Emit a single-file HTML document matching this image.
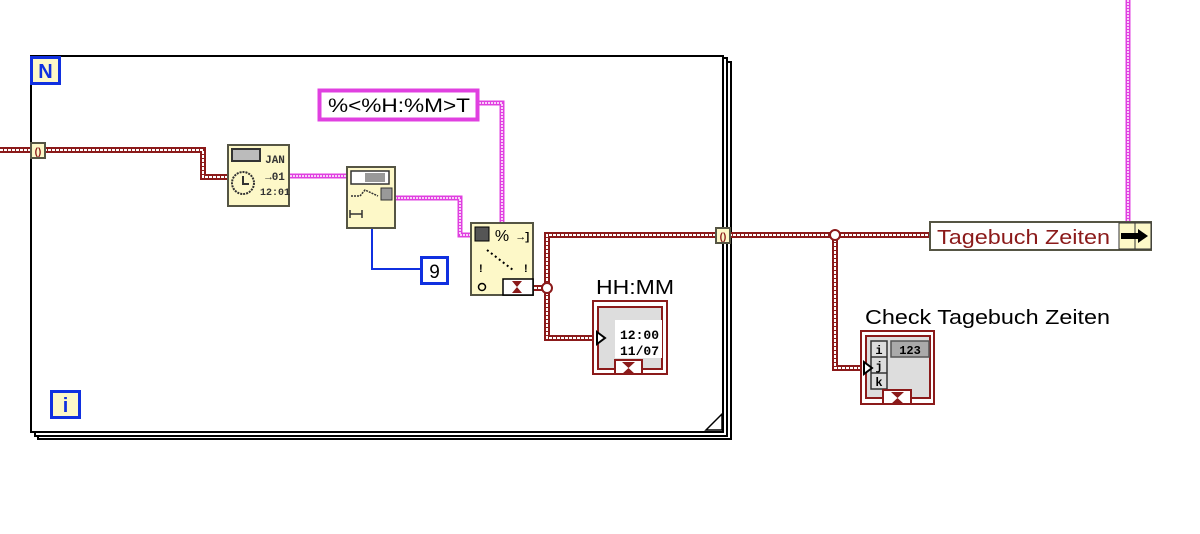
<!DOCTYPE html>
<html><head><meta charset="utf-8"><style>
html,body{margin:0;padding:0;background:#fff;width:1200px;height:534px;overflow:hidden}
svg{display:block}
text{font-family:"Liberation Sans",sans-serif}
.m{font-family:"Liberation Mono",monospace;font-weight:bold}
</style></head><body>
<svg width="1200" height="534" viewBox="0 0 1200 534" xmlns="http://www.w3.org/2000/svg">
<g fill="none" stroke="#000" stroke-width="2">
<path d="M31 56 H723 V432 H31 Z"/>
<path d="M723 58 H727 V436 H35 V432"/>
<path d="M727 62 H731 V439 H38 V436"/>
</g>
<path d="M706 430 L722 414 V430 Z" fill="#fff" stroke="#000" stroke-width="1.5"/>
<g fill="none" stroke-linejoin="miter">
<g stroke="#8b1a1a" stroke-width="6">
<path d="M0 150 H203 V177 H228"/>
<path d="M534 288 H547 V235 H929"/>
<path d="M547 288 V338 H597"/>
<path d="M835 235 V368 H862"/>
</g>
<g stroke="#fff" stroke-width="2" stroke-dasharray="3 1">
<path d="M0 150 H203 V177 H228"/>
<path d="M534 288 H547 V235 H929"/>
<path d="M547 288 V338 H597"/>
<path d="M835 235 V368 H862"/>
</g>
<g stroke="#e040e0" stroke-width="5">
<path d="M290 176 H347"/>
<path d="M395 198 H460 V235 H471"/>
<path d="M479 103 H502 V222"/>
<path d="M1128 0 V221"/>
</g>
<g stroke="#fff" stroke-width="1.5" stroke-dasharray="2 1">
<path d="M290 176 H347"/>
<path d="M395 198 H460 V235 H471"/>
<path d="M479 103 H502 V222"/>
<path d="M1128 0 V221"/>
</g>
<path d="M372 229 V269 H420" stroke="#1030e0" stroke-width="2"/>
</g>
<circle cx="547" cy="288" r="5" fill="#fff" stroke="#8b1a1a" stroke-width="2"/>
<circle cx="835" cy="235" r="5" fill="#fff" stroke="#8b1a1a" stroke-width="2"/>
<rect x="31" y="143" width="14" height="15" fill="#fdf8c8" stroke="#555544" stroke-width="2"/>
<text x="38" y="155" font-size="10" fill="#8b1a1a" text-anchor="middle" font-weight="bold">()</text>
<rect x="716" y="228" width="14" height="15" fill="#fdf8c8" stroke="#555544" stroke-width="2"/>
<text x="723" y="240" font-size="10" fill="#8b1a1a" text-anchor="middle" font-weight="bold">()</text>
<rect x="31.5" y="57.5" width="28" height="26" fill="#fdf8c8" stroke="#1030e0" stroke-width="3"/>
<text x="45.5" y="78" font-size="20" fill="#1030e0" text-anchor="middle" font-weight="bold">N</text>
<rect x="51.5" y="391.5" width="28" height="26" fill="#fdf8c8" stroke="#1030e0" stroke-width="3"/>
<text x="65.5" y="412" font-size="20" fill="#1030e0" text-anchor="middle" font-weight="bold">i</text>
<rect x="228" y="145" width="61" height="61" fill="#fdf8c8" stroke="#555544" stroke-width="2"/>
<rect x="232" y="149" width="28" height="12" fill="#bbb" stroke="#333" stroke-width="2"/>
<circle cx="243" cy="183" r="11" fill="none" stroke="#333" stroke-width="2" stroke-dasharray="2 1"/>
<path d="M243 176 V184 H249" stroke="#333" stroke-width="2" fill="none"/>
<text x="275" y="163" class="m" font-size="11" fill="#333" text-anchor="middle">JAN</text>
<text x="275" y="180" class="m" font-size="11" fill="#333" text-anchor="middle">→01</text>
<text x="275" y="195" class="m" font-size="10" fill="#333" text-anchor="middle">12:01</text>
<rect x="347" y="167" width="48" height="61" fill="#fdf8c8" stroke="#555544" stroke-width="2"/>
<rect x="351" y="171" width="38" height="13" fill="#fff" stroke="#333" stroke-width="1.5"/>
<rect x="365" y="173" width="20" height="9" fill="#999"/>
<rect x="381" y="188" width="11" height="12" fill="#999" stroke="#333"/>
<path d="M351 196 H360 L365 190 L378 196" stroke="#333" fill="none" stroke-width="1.5" stroke-dasharray="2 1"/>
<path d="M350 214 H362 M350 210 V218 M362 210 V218" stroke="#333" stroke-width="1.5"/>
<rect x="421.5" y="257.5" width="26" height="26" fill="#fff" stroke="#1030e0" stroke-width="3"/>
<text x="434.5" y="278" font-size="19" fill="#000" text-anchor="middle">9</text>
<rect x="319.5" y="90.5" width="158" height="29" fill="#fff" stroke="#e040e0" stroke-width="4"/>
<text x="328" y="112" font-size="19" fill="#000" textLength="142" lengthAdjust="spacingAndGlyphs">%&lt;%H:%M&gt;T</text>
<rect x="471" y="223" width="62" height="72" fill="#fdf8c8" stroke="#555544" stroke-width="2"/>
<rect x="475" y="227" width="14" height="14" fill="#555" stroke="#000"/>
<text x="502" y="241" font-size="16" fill="#000" text-anchor="middle">%</text>
<text x="524" y="240" class="m" font-size="11" fill="#000" text-anchor="middle">→]</text>
<path d="M487 250 L513 270" stroke="#000" stroke-dasharray="2 3" stroke-width="2"/>
<text x="479" y="272" font-size="11" fill="#000" font-weight="bold">!</text>
<text x="524" y="272" font-size="11" fill="#000" font-weight="bold">!</text>
<circle cx="482" cy="287" r="3.5" fill="none" stroke="#000" stroke-width="1.5"/>
<rect x="503" y="279" width="30" height="16" fill="#fff" stroke="#000" stroke-width="1.5"/>
<path d="M512 281 H522 L512 293 H522 Z" fill="#8b1a1a"/>
<text x="596" y="294" font-size="20" fill="#000" textLength="78" lengthAdjust="spacingAndGlyphs">HH:MM</text>
<rect x="593" y="301" width="74" height="73" fill="#fff" stroke="#8b1a1a" stroke-width="2"/>
<rect x="598" y="307" width="64" height="62" fill="#ddd" stroke="#8b1a1a" stroke-width="2"/>
<rect x="615" y="320" width="47" height="38" fill="#fff"/>
<text x="620" y="339" class="m" font-size="13" fill="#000">12:00</text>
<text x="620" y="355" class="m" font-size="13" fill="#000">11/07</text>
<path d="M597 332 L605 338 L597 344 Z" fill="#fff" stroke="#000" stroke-width="2"/>
<rect x="615" y="360" width="27" height="14" fill="#fff" stroke="#8b1a1a" stroke-width="2"/>
<path d="M622 362 H635 L622 374 H635 Z" fill="#8b1a1a"/>
<rect x="930" y="222" width="221" height="28" fill="#fff" stroke="#555544" stroke-width="2"/>
<text x="937" y="244" font-size="20" fill="#8b1a1a" textLength="173" lengthAdjust="spacingAndGlyphs">Tagebuch Zeiten</text>
<rect x="1119" y="223" width="16" height="26" fill="#fdf8c8" stroke="#333" stroke-width="1"/>
<rect x="1135" y="223" width="16" height="26" fill="#fdf8c8" stroke="#333" stroke-width="1"/>
<path d="M1121 233 H1138 V229 L1148 236 L1138 243 V239 H1121 Z" fill="#000"/>
<text x="865" y="324" font-size="20" fill="#000" textLength="245" lengthAdjust="spacingAndGlyphs">Check Tagebuch Zeiten</text>
<rect x="861" y="331" width="73" height="73" fill="#fff" stroke="#8b1a1a" stroke-width="2"/>
<rect x="866" y="336" width="64" height="62" fill="#ddd" stroke="#8b1a1a" stroke-width="2"/>
<rect x="871" y="341" width="16" height="48" fill="#ddd" stroke="#333" stroke-width="1.5"/>
<path d="M871 357 H887 M871 373 H887" stroke="#333" stroke-width="1.5"/>
<text x="879" y="354" class="m" font-size="12" fill="#000" text-anchor="middle">i</text>
<text x="879" y="370" class="m" font-size="12" fill="#000" text-anchor="middle">j</text>
<text x="879" y="386" class="m" font-size="12" fill="#000" text-anchor="middle">k</text>
<rect x="891" y="341" width="38" height="16" fill="#aaa" stroke="#555" stroke-width="1.5"/>
<text x="910" y="354" class="m" font-size="12" fill="#000" text-anchor="middle">123</text>
<path d="M864 362 L872 368 L864 374 Z" fill="#fff" stroke="#000" stroke-width="2"/>
<rect x="883" y="390" width="28" height="14" fill="#fff" stroke="#8b1a1a" stroke-width="2"/>
<path d="M891 392 H904 L891 404 H904 Z" fill="#8b1a1a"/>
</svg>
</body></html>
